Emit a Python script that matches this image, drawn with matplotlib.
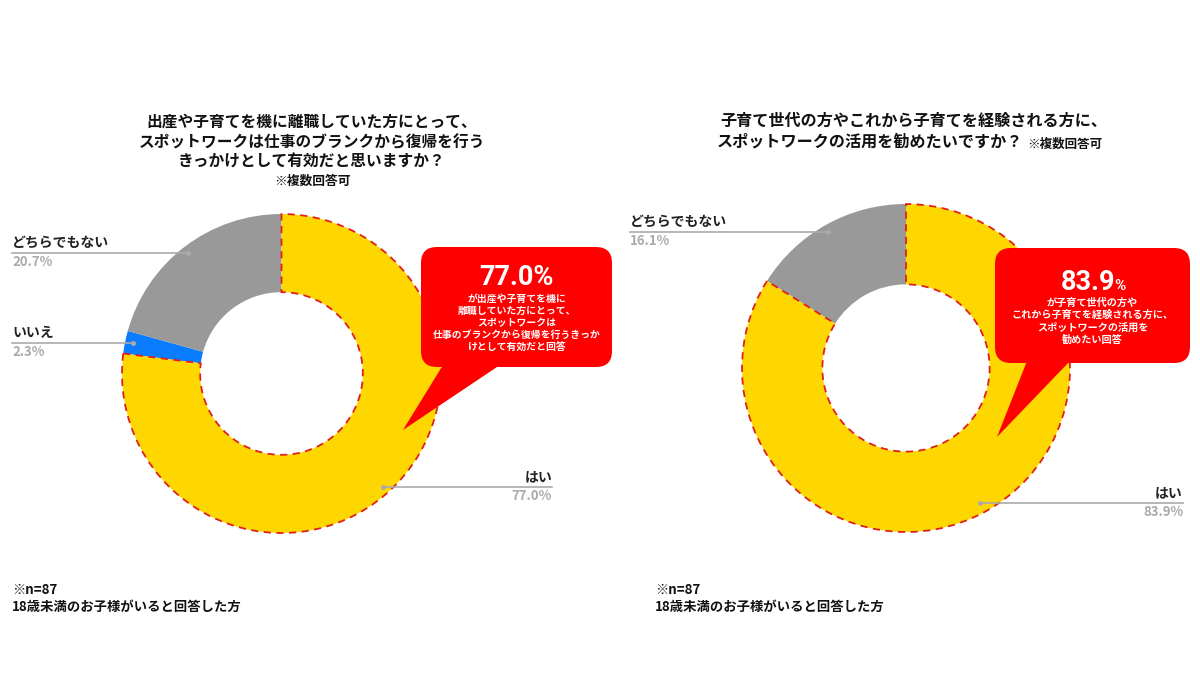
import matplotlib.pyplot as plt
from matplotlib.patches import FancyBboxPatch, Polygon

plt.rcParams['font.family'] = ['Noto Sans CJK JP', 'DejaVu Sans']
plt.rcParams['font.weight'] = 'bold'

# データ
left_labels = ['はい', 'いいえ', 'どちらでもない']
left_values = [77.0, 2.3, 20.7]
left_colors = ['#FFD700', '#0A7CFF', '#999999']

right_labels = ['はい', 'どちらでもない']
right_values = [83.9, 16.1]
right_colors = ['#FFD700', '#999999']

left_title = ['出産や子育てを機に離職していた方にとって、',
              'スポットワークは仕事のブランクから復帰を行う',
              'きっかけとして有効だと思いますか？']
right_title = ['子育て世代の方やこれから子育てを経験される方に、',
               'スポットワークの活用を勧めたいですか？']
note = '※複数回答可'
footnote = '※n=87\n18歳未満のお子様がいると回答した方'

left_callout = 'が出産や子育てを機に\n離職していた方にとって、\nスポットワークは\n仕事のブランクから復帰を行うきっか\nけとして有効だと回答'
right_callout = 'が子育て世代の方や\nこれから子育てを経験される方に、\nスポットワークの活用を\n勧めたい回答'

W, H = 1200, 675
fig = plt.figure(figsize=(12, 6.75), dpi=100)

# 全体のオーバーレイ (ピクセル座標)、ドーナツより前面
ov = fig.add_axes([0, 0, 1, 1])
ov.set_xlim(0, W)
ov.set_ylim(H, 0)
ov.axis('off')
ov.set_zorder(10)
ov.patch.set_alpha(0)


def donut(cx, cy, r, values, colors):
    ax = fig.add_axes([(cx - r) / W, 1 - (cy + r) / H, 2 * r / W, 2 * r / H])
    wedges, _ = ax.pie(values, colors=colors, startangle=90, counterclock=False,
                       radius=1, wedgeprops=dict(width=0.49, linewidth=0))
    # はい のみ赤い破線の枠
    wedges[0].set_edgecolor('#E0201B')
    wedges[0].set_linestyle((0, (4, 3)))
    wedges[0].set_linewidth(1.3)
    wedges[0].set_zorder(3)
    ax.set_xlim(-1, 1)
    ax.set_ylim(-1, 1)
    ax.set_aspect('equal')
    ax.axis('off')
    return ax


def leader(x0, x1, y, name, pct, side):
    ov.plot([x0, x1], [y, y], color='#aaaaaa', lw=1.2, zorder=5)
    dot_x = x1 if side == 'left' else x0
    ov.plot([dot_x], [y], 'o', color='#aaaaaa', ms=2.5, zorder=5)
    if side == 'left':
        ov.text(x0, y - 3, name, ha='left', va='bottom', fontsize=10, color='#222222')
        ov.text(x0, y + 2, pct, ha='left', va='top', fontsize=9.5, color='#aaaaaa')
    else:
        ov.text(x1, y - 3, name, ha='right', va='bottom', fontsize=10, color='#222222')
        ov.text(x1, y + 2, pct, ha='right', va='top', fontsize=9.5, color='#aaaaaa')


def callout(x, y, w, h, tail, text, fs, ty):
    box = FancyBboxPatch((x, y), w, h, boxstyle='round,pad=0,rounding_size=16',
                         fc='#FF0000', ec='none', zorder=6)
    ov.add_patch(box)
    ov.add_patch(Polygon(tail, closed=True, fc='#FF0000', ec='none', zorder=6))
    ov.text(x + w / 2, ty, text, ha='center', va='top', fontsize=fs,
            color='white', linespacing=1.25, zorder=7)


# 左のドーナツ
donut(281.5, 373.5, 159.5, left_values, left_colors)
for i, line in enumerate(left_title):
    ov.text(312, 122 + 20 * i, line, ha='center', va='center', fontsize=11.3,
            color='#111111')
ov.text(312, 181, note, ha='center', va='center', fontsize=9.2, color='#111111')
leader(12, 188, 253, left_labels[2], f'{left_values[2]}%', 'left')
leader(12, 133, 343, left_labels[1], f'{left_values[1]}%', 'left')
leader(383, 552, 487, left_labels[0], f'{left_values[0]}%', 'right')
callout(421, 247, 191, 120, [(443, 365), (500, 365), (403, 430)], left_callout, 7.1, 294)
ov.text(516, 285, f'{left_values[0]}%', ha='center', va='baseline', fontsize=19.5,
        color='white', family=['Roboto', 'DejaVu Sans'], zorder=7)
ov.text(12, 583, footnote, ha='left', va='top', fontsize=9.6, color='#111111',
        linespacing=1.3)

# 右のドーナツ
donut(906, 368, 164, right_values, right_colors)
ov.text(914, 121, right_title[0], ha='center', va='center', fontsize=11.6, color='#111111')
ov.text(1023, 142, right_title[1], ha='right', va='center', fontsize=11.6, color='#111111')
ov.text(1027, 144, note, ha='left', va='center', fontsize=9, color='#111111')
leader(630, 828, 232, right_labels[1], f'{right_values[1]}%', 'left')
leader(980, 1183, 503, right_labels[0], f'{right_values[0]}%', 'right')
callout(995, 248, 195, 115, [(1027, 361), (1070, 361), (997, 437)], right_callout, 7.3, 298)
ov.text(1115, 290, f'{right_values[0]}', ha='right', va='baseline', fontsize=19.5,
        color='white', family=['Roboto', 'DejaVu Sans'], zorder=7)
ov.text(1114, 290, '%', ha='left', va='baseline', fontsize=11,
        color='white', family=['Roboto', 'DejaVu Sans'], zorder=7)
ov.text(655, 583, footnote, ha='left', va='top', fontsize=9.6, color='#111111',
        linespacing=1.3)

fig.savefig('out.png', dpi=100)
